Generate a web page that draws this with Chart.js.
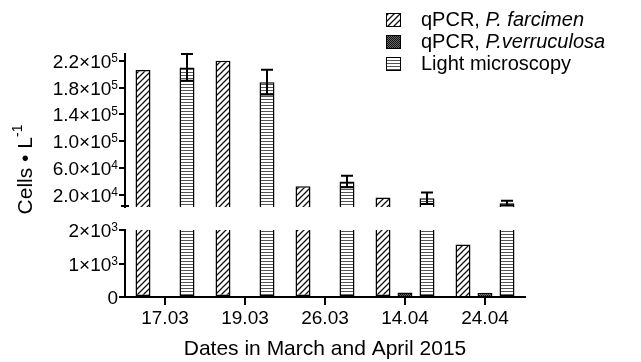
<!DOCTYPE html>
<html>
<head>
<meta charset="utf-8">
<script src="https://cdn.jsdelivr.net/npm/chart.js@4.4.0/dist/chart.umd.min.js"></script>
<style>
html,body{margin:0;padding:0;background:#fff;}
#wrap{width:641px;height:362px;}
</style>
</head>
<body>
<div id="wrap"><canvas id="myChart"></canvas></div>
<script>
// values (cells per litre)
var dates = ['17.03', '19.03', '26.03', '14.04', '24.04'];
var farcimen = [206000, 220000, 33000, 16000, 1570];
var verruculosa = [0, 0, 0, 135, 130];
var microscopy = [210000, 188000, 40000, 15000, 7700];
var microscopyErr = [20000, 18500, 8500, 8500, 3500];

// broken y axis: lower part 0..2000, upper part 2000..230000
var breakAt = 2000;
var topMax = 230000;
var topTicks = [20000, 60000, 100000, 140000, 180000, 220000];
var topLabels = ['2.0×10^4', '6.0×10^4', '1.0×10^5', '1.4×10^5', '1.8×10^5', '2.2×10^5'];
var botTicks = [0, 1000, 2000];
var botLabels = ['0', '1×10^3', '2×10^3'];

var legendNames = [['qPCR, ', 'P. farcimen'], ['qPCR, ', 'P.verruculosa'], ['Light microscopy', '']];
var yTitle = ['Cells • L', '-1'];
var xTitle = 'Dates in March and April 2015';

var FONT = '"Liberation Sans", Arial, sans-serif';
Chart.defaults.font.family = FONT;
Chart.defaults.color = '#000';

//patterns
function makePattern(kind){
    var c = document.createElement('canvas'), x = c.getContext('2d');
    if(kind == 'diag'){
        c.width = c.height = 6;
        x.fillStyle = '#fff'; x.fillRect(0,0,6,6);
        x.strokeStyle = '#111'; x.lineWidth = 1.3;
        x.beginPath();
        x.moveTo(0,6); x.lineTo(6,0);
        x.moveTo(-1,1); x.lineTo(1,-1);
        x.moveTo(5,7); x.lineTo(7,5);
        x.stroke();
    } else if(kind == 'dots'){
        c.width = c.height = 2;
        x.fillStyle = '#666'; x.fillRect(0,0,2,2);
        x.fillStyle = '#111'; x.fillRect(0,0,1,1); x.fillRect(1,1,1,1);
    } else {
        c.width = 4; c.height = 3;
        x.fillStyle = '#fff'; x.fillRect(0,0,4,3);
        x.fillStyle = '#555'; x.fillRect(0,0,4,1);
    }
    return x.createPattern(c, 'repeat');
}
var fills = [makePattern('diag'), makePattern('dots'), makePattern('lines')];
var series = [farcimen, verruculosa, microscopy];
var stacks = ['a', 'b', 'c'];

var datasets = [];
series.forEach(function(vals, k){
    datasets.push({
        label: legendNames[k].join(''),
        data: vals.map(function(v){ return v > breakAt ? v : null; }),
        yAxisID: 'yTop', stack: stacks[k], base: breakAt,
        backgroundColor: fills[k], borderColor: '#000', borderWidth: 1.5,
        errors: k == 2 ? microscopyErr : null
    });
});
series.forEach(function(vals, k){
    datasets.push({
        label: legendNames[k].join(''),
        data: vals.map(function(v){ return Math.min(v, breakAt); }),
        yAxisID: 'yBot', stack: stacks[k],
        backgroundColor: fills[k], borderColor: '#000', borderWidth: 1.5,
        borderSkipped: function(ctx){ return series[k][ctx.dataIndex] > breakAt ? 'top' : 'start'; }
    });
});

function fixedTicks(vals){
    return function(scale){ scale.ticks = vals.map(function(v){ return {value: v}; }); };
}
function yAxis(weight){
    return {
        type: 'linear', position: 'left', stack: 'v', stackWeight: weight, stacked: false,
        border: {display: true, color: '#000', width: 2},
        grid: {display: true, drawOnChartArea: false, color: '#000', lineWidth: 2, tickLength: 6},
        ticks: {display: false, autoSkip: false},
        afterFit: function(s){ s.width = 125; }
    };
}
var yBot = yAxis(67);
yBot.min = 0; yBot.max = breakAt;
yBot.afterBuildTicks = fixedTicks(botTicks);

var yTop = yAxis(153);
yTop.min = breakAt; yTop.max = topMax;
yTop.afterBuildTicks = fixedTicks(topTicks);

var yGap = {
    type: 'linear', position: 'left', stack: 'v', stackWeight: 23,
    border: {display: false}, grid: {display: false}, ticks: {display: false},
    afterFit: function(s){ s.width = 125; }
};

// error bars on the microscopy counts
var errorBars = {
    id: 'errorBars',
    afterDatasetsDraw: function(chart){
        var ctx = chart.ctx, sc = chart.scales.yTop;
        chart.data.datasets.forEach(function(ds, di){
            if(!ds.errors) return;
            var meta = chart.getDatasetMeta(di);
            meta.data.forEach(function(bar, i){
                var v = ds.data[i];
                if(v == null) return;
                var hi = sc.getPixelForValue(v + ds.errors[i]);
                var lo = sc.getPixelForValue(Math.max(v - ds.errors[i], breakAt));
                ctx.save();
                ctx.strokeStyle = '#000'; ctx.lineWidth = 2;
                ctx.beginPath();
                ctx.moveTo(bar.x, hi); ctx.lineTo(bar.x, lo);
                ctx.moveTo(bar.x - 6, hi); ctx.lineTo(bar.x + 6, hi);
                ctx.moveTo(bar.x - 6, lo); ctx.lineTo(bar.x + 6, lo);
                ctx.stroke();
                ctx.restore();
            });
        });
    }
};

// y tick labels with raised exponents
function tickLabels(ctx, scale, vals, labels){
    ctx.save();
    ctx.fillStyle = '#000';
    ctx.textAlign = 'right';
    ctx.textBaseline = 'alphabetic';
    vals.forEach(function(v, i){
        var y = scale.getPixelForValue(v);
        var parts = labels[i].split('^');
        var x = scale.right - 7, supW = 0;
        if(parts[1]){
            ctx.font = '12px ' + FONT;
            supW = ctx.measureText(parts[1]).width;
            ctx.fillText(parts[1], x, y + 1);
        }
        ctx.font = '19px ' + FONT;
        ctx.fillText(parts[0], x - supW, y + 7);
    });
    ctx.restore();
}

// legend, y title, tick labels and break cap
var extras = {
    id: 'extras',
    afterDraw: function(chart){
        var ctx = chart.ctx, ca = chart.chartArea;
        var t = chart.scales.yTop, b = chart.scales.yBot;
        tickLabels(ctx, t, topTicks, topLabels);
        tickLabels(ctx, b, botTicks, botLabels);
        ctx.save();
        ctx.strokeStyle = '#000'; ctx.lineWidth = 2;
        ctx.beginPath();
        ctx.moveTo(ca.left - 4, t.bottom - 1); ctx.lineTo(ca.left + 4, t.bottom - 1);
        ctx.stroke();
        // y title
        ctx.translate(26, (ca.top + ca.bottom) / 2 - 6);
        ctx.rotate(-Math.PI / 2);
        ctx.font = '21px ' + FONT;
        ctx.textBaseline = 'middle';
        var w1 = ctx.measureText(yTitle[0]).width;
        ctx.font = '14px ' + FONT;
        var w2 = ctx.measureText(yTitle[1]).width;
        var sx = -(w1 + w2) / 2;
        ctx.font = '21px ' + FONT;
        ctx.fillStyle = '#000';
        ctx.fillText(yTitle[0], sx, 0);
        ctx.font = '14px ' + FONT;
        ctx.fillText(yTitle[1], sx + w1, -8);
        ctx.restore();

        // legend
        ctx.save();
        var lx = ca.right - 139, ly = 20;
        legendNames.forEach(function(n, k){
            var y = ly + k * 22;
            ctx.fillStyle = fills[k];
            ctx.fillRect(lx, y - 7, 14, 13);
            ctx.strokeStyle = '#000'; ctx.lineWidth = 1;
            ctx.strokeRect(lx + 0.5, y - 6.5, 14, 13);
            ctx.fillStyle = '#000';
            ctx.textBaseline = 'middle';
            ctx.font = '20px ' + FONT;
            ctx.fillText(n[0], lx + 35, y);
            var w = ctx.measureText(n[0]).width;
            ctx.font = 'italic 20px ' + FONT;
            ctx.fillText(n[1], lx + 35 + w, y);
        });
        ctx.restore();
    }
};

var ctx = document.getElementById('myChart');
var chart = new Chart(ctx, {
    type: 'bar',
    data: {labels: dates, datasets: datasets},
    options: {
        responsive: true,
        maintainAspectRatio: false,
        animation: false,
        layout: {padding: {top: 54, right: 116, left: 0, bottom: 0}},
        categoryPercentage: 0.825,
        barPercentage: 0.68,
        plugins: {legend: {display: false}, tooltip: {enabled: false}},
        scales: {
            x: {
                border: {display: true, color: '#000', width: 2},
                grid: {display: true, drawOnChartArea: false, offset: false, color: '#000', lineWidth: 2, tickLength: 8},
                ticks: {font: {size: 19}, padding: 2, color: '#000'},
                title: {display: true, text: xTitle, font: {size: 21}, color: '#000', padding: {top: 4, bottom: 0}},
                afterFit: function(s){ s.height = 65; }
            },
            yBot: yBot,
            yGap: yGap,
            yTop: yTop
        }
    },
    plugins: [errorBars, extras]
});
</script>
</body>
</html>
